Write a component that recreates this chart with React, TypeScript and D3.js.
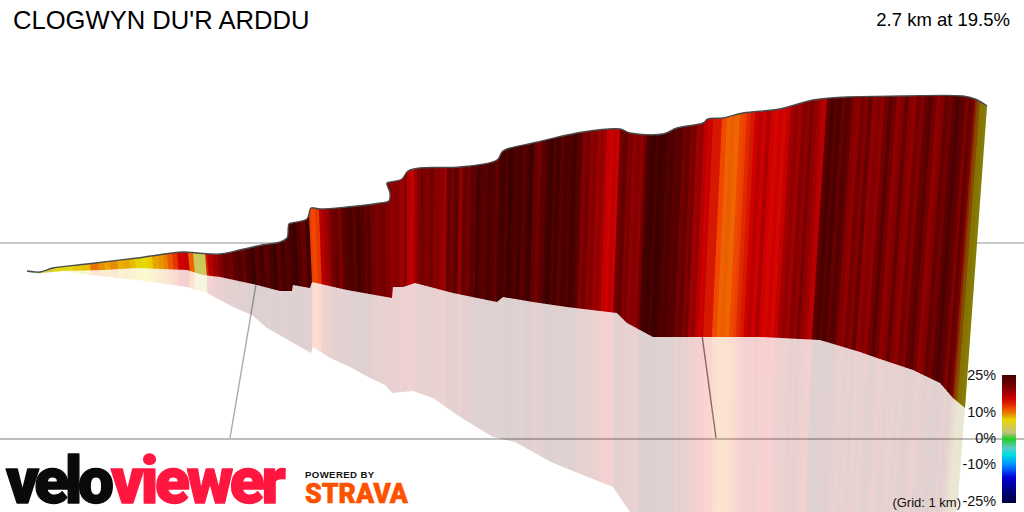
import React from "react";
import * as d3 from "d3";

const title = "CLOGWYN DU'R ARDDU";
const summary = "2.7 km at 19.5%";
const legendLabels = ["25%", "10%", "0%", "-10%", "-25%"];
const legendValues = [25, 10, 0, -10, -25];
const legendLabelY = [375, 412, 438, 464, 501];

// grade colour ramp
const rampGrades = [27, 25, 22, 20, 18, 16, 14, 12, 10, 7.5, 2.5, 0, -3.5, -6, -10, -15, -19, -25];
const rampColors = ["#3c0000", "#4a0000", "#640000", "#820000", "#a00000", "#d00000", "#d82000", "#f04800", "#e88000", "#e8d800", "#c0c080", "#20d020", "#60c8c8", "#00e0e0", "#0090ff", "#0000d8", "#000090", "#000040"];
const barGrades = [25, 22, 20, 18, 16, 14, 12, 10, 7.5, 2.5, 0, -3.5, -6, -10, -15, -19, -25];

// top edge of the ribbon
const topX = [27, 40, 53, 87, 137, 183, 197, 220, 240, 262, 280, 287, 289, 292, 307, 309, 311, 320, 347, 380, 389, 390, 387, 391, 402, 408, 420, 460, 497, 502, 507, 533, 583, 620, 630, 663, 677, 703, 708, 723, 743, 780, 813, 847, 900, 963, 975, 987];
const topY = [271, 272, 268, 264, 258, 252, 253, 254, 250, 245, 242, 238, 224, 223, 219, 214, 208, 209, 207, 203, 201, 193, 183, 182, 179, 171, 168, 167, 160, 152, 149, 143, 132, 129, 133, 134, 128, 123, 119, 118, 113, 109, 100, 97, 96, 96, 99, 106];
// bottom edge of the ribbon
const midX = [27, 40, 63, 103, 137, 187, 203, 220, 257, 280, 292, 293, 310, 312, 347, 392, 393, 403, 415, 453, 497, 503, 533, 567, 617, 627, 653, 700, 760, 820, 860, 880, 913, 940, 953, 965];
const midY = [272, 273, 271, 270, 268, 270, 275, 277, 285, 291, 291, 285, 288, 282, 290, 298, 287, 287, 283, 293, 302, 297, 302, 307, 313, 323, 337, 337, 337, 340, 352, 359, 370, 383, 398, 408];
// lower edge of the pale reflection
const lowX = [27, 40, 63, 90, 137, 187, 207, 233, 252, 267, 311, 313, 330, 350, 370, 385, 392, 413, 433, 460, 493, 515, 553, 613, 630, 650];
const lowY = [272, 274, 271, 275, 280, 287, 293, 307, 315, 328, 353, 347, 358, 367, 378, 385, 393, 391, 398, 417, 437, 442, 463, 487, 512, 530];
const reflectionRightX = [965, 958, 955];
const reflectionRightY = [408, 500, 520];

// colour bands along the top edge: [left edge of the band, gradient in %]
const bandsLow: [number, number][] = [[27, 1], [40, 5], [53, 7], [63, 6.8], [73, 8], [82, 8.2], [90, 10.5], [98, 9.6], [104, 9], [110, 9.8], [117, 8.6], [123, 8.9], [129, 8.3], [135, 7.6], [141, 7.2], [147, 7.8], [152, 9], [158, 9.4], [163, 10], [167, 11.5], [172, 13], [177, 16], [183, 16.5], [188, 11], [193, 4], [205, 14], [207, 17], [212, 18.5], [218, 20], [222, 22], [227, 21], [232, 23], [237, 24], [241, 22], [245, 25], [250, 27], [254, 24], [259, 26], [263, 23], [268, 25], [272, 27], [276, 23], [280, 26], [284, 24], [288, 25], [292, 27], [296, 24], [300, 22], [305, 26]];
const bandsMid: [number, number][] = [[309, 12.5], [311, 12], [315, 12.8], [319, 17], [323, 18], [327, 19], [330, 21], [334, 22], [338, 20], [341, 23], [345, 24], [349, 25], [352, 23], [356, 26], [360, 24], [364, 22], [367, 24], [370, 21], [375, 20.5], [380, 21], [385, 20], [390, 19], [394, 20], [397, 19], [400, 18], [404, 20], [407, 17], [411, 16.5], [414, 18], [417, 20], [421, 21], [425, 20], [430, 21], [434, 19.5], [438, 20], [440, 19], [444, 18], [447, 22], [451, 21], [455, 23], [459, 19], [463, 22], [467, 21], [471, 23], [475, 22], [477, 26], [480, 24], [484, 23], [488, 25], [492, 24], [496, 22], [499, 25]];
const bandsHigh: [number, number][] = [[502, 26], [506, 24], [509, 27], [513, 25], [516, 24], [519, 26], [523, 23], [527, 25], [530, 27], [534, 22], [538, 21], [542, 23], [547, 25], [550, 27], [554, 24], [557, 26], [561, 23], [565, 25], [569, 24], [573, 26], [577, 24], [580, 23], [583, 20], [587, 21], [591, 19], [594, 20], [598, 18], [601, 19], [604, 18], [607, 16.5], [611, 16], [614, 17], [617, 16.2], [620, 21], [624, 22], [628, 20], [631, 21], [633, 19], [637, 20], [641, 19], [644, 21], [647, 25], [650, 26], [653, 27], [656, 25], [659, 27], [663, 26], [667, 24], [671, 25], [675, 23], [679, 24], [683, 21], [687, 22], [691, 20], [694, 21], [697, 18], [701, 19], [704, 17], [708, 16], [711, 16.5], [713, 14.5]];
const bandsPeak: [number, number][] = [[722, 12], [727, 11], [731, 11.3], [735, 10.9], [740, 12], [744, 12.4], [747, 13.5], [751, 14.5], [755, 16], [759, 17], [763, 16], [767, 17.5], [771, 16], [775, 15.5], [779, 16], [783, 15.5], [787, 16.5], [791, 18], [795, 19], [799, 18], [803, 20], [807, 19], [811, 21], [814, 19], [818, 18], [822, 17], [827, 23], [831, 25], [835, 23], [838, 25], [842, 22], [846, 24], [850, 22], [853, 20], [857, 19], [861, 21], [865, 20], [869, 22], [873, 19], [877, 20], [881, 19], [885, 21], [889, 23], [893, 21], [897, 19], [901, 20], [905, 22], [909, 20], [913, 19], [917, 21], [921, 20], [925, 22], [929, 23], [933, 21], [937, 19], [941, 20], [945, 22], [949, 21], [953, 23], [957, 25], [960, 23], [963, 22], [966, 20], [969, 18], [972, 16], [975, 12.5], [977, 10], [980, 8], [984, 7]];
const bandEnd = 990;
// the far end of the ribbon turns towards olive
const shadeEdges = [969, 990];
const shadeOpacity = 0.42;

// perspective of the strips: top edge x → bottom edge x
const slantTop = [27, 309, 720, 988];
const slantMid = [27, 312, 710, 965];
const reflectAnchor = [27, 710, 965];
const reflectSlope = [0, 0, -0.09];

const allBands = [...bandsLow, ...bandsMid, ...bandsHigh, ...bandsPeak];

const ramp = d3.scaleLinear<string>().domain(rampGrades).range(rampColors).interpolate(d3.interpolateRgb).clamp(true);
const line = d3.line<[number, number]>();
const smooth = d3.line<[number, number]>().curve(d3.curveCatmullRom.alpha(0.5));
const zip = (xs: number[], ys: number[]) => xs.map((x, i) => [x, ys[i]] as [number, number]);

const slant = d3.scaleLinear().domain(slantTop).range(slantMid);
const reflectK = d3.scaleLinear().domain(reflectAnchor).range(reflectSlope);
const monotoneTop = zip(topX, topY).filter((p, i, a) => i === 0 || p[0] > a[i - 1][0]);
const topAt = d3.scaleLinear().domain(monotoneTop.map(p => p[0])).range(monotoneTop.map(p => p[1]));
const midAt = d3.scaleLinear().domain(midX).range(midY);

const edgeLine = (x: number) => {
  const m = slant(x);
  const yt = topAt(x);
  const yb = midAt(m);
  const k = yb - yt > 4 ? (m - x) / (yb - yt) : 0;
  return { m, yb, up: [x - k * 50, yt - 50] as [number, number], down: [m + k * 50, yb + 50] as [number, number] };
};

const reflectStrip = (a: { m: number; yb: number }, b: { m: number; yb: number }) =>
  line([
    [a.m, a.yb - 6],
    [b.m, b.yb - 6],
    [b.m + reflectK(b.m) * (530 - b.yb), 530],
    [a.m + reflectK(a.m) * (530 - a.yb), 530],
  ]) + "Z";

const bands = allBands.map(([x, g], i) => {
  const a = edgeLine(x);
  const next = i + 1 < allBands.length ? allBands[i + 1][0] : bandEnd;
  const b = edgeLine(next + 0.8); // slight overlap so that no seam shows
  return {
    color: ramp(g),
    ribbon: line([a.up, b.up, b.down, a.down]) + "Z",
    reflect: reflectStrip(a, b),
  };
});

const shadeA = edgeLine(shadeEdges[0]);
const shadeB = edgeLine(shadeEdges[1]);
const shadePath = line([shadeA.up, shadeB.up, shadeB.down, shadeA.down]) + "Z";
const shadeReflect = reflectStrip(shadeA, shadeB);

const topPath = smooth(zip(topX, topY)) ?? "";
const ribbonPath = topPath + "L" + (line(zip(midX, midY).reverse()) ?? "").slice(1) + "Z";
const reflectPath = line([...zip(midX, midY), ...zip(reflectionRightX, reflectionRightY), ...zip(lowX, lowY).reverse()]) + "Z";

const sans = "'Liberation Sans', Arial, sans-serif";
const legendY = d3.scaleLinear().domain([25, -25]).range([375, 503]);

export default function App() {
  return (
    <svg width={1024} height={512} style={{ position: "absolute", left: 0, top: 0, display: "block", background: "#fff" }} fontFamily={sans}>
      <defs>
        <clipPath id="rib"><path d={ribbonPath} /></clipPath>
        <clipPath id="refl"><path d={reflectPath} /></clipPath>
        <linearGradient id="bar" x1="0" x2="0" y1="0" y2="1">
          {barGrades.map((g, i) => (
            <stop key={i} offset={(25 - g) / 50} stopColor={ramp(g)} />
          ))}
        </linearGradient>
      </defs>

      <line x1={0} x2={1024} y1={243} y2={243} stroke="#b4b4b4" strokeWidth={1.5} />
      <line x1={0} x2={1024} y1={439} y2={439} stroke="#a8a8a8" strokeWidth={1.5} />
      <line x1={230} y1={438} x2={263} y2={243} stroke="#aaa" strokeWidth={1.4} />
      <line x1={702} y1={335} x2={716} y2={438} stroke="#777" strokeWidth={1.4} />

      <g clipPath="url(#refl)" opacity={0.18}>
        {bands.map((b, i) => <path key={i} d={b.reflect} fill={b.color} />)}
        <path d={shadeReflect} fill="#000" opacity={shadeOpacity} />
      </g>

      <g clipPath="url(#rib)">
        {bands.map((b, i) => <path key={i} d={b.ribbon} fill={b.color} />)}
        <path d={shadePath} fill="#000" opacity={shadeOpacity} />
      </g>
      <path d={topPath} fill="none" stroke="#4a4a4a" strokeWidth={1.4} />

      <text x={13} y={29} fontSize={25.6} fill="#000">{title}</text>
      <text x={1010} y={26} fontSize={18.5} fill="#000" textAnchor="end">{summary}</text>

      <rect x={1002} y={legendY(25)} width={14} height={legendY(-25) - legendY(25)} fill="url(#bar)" />
      {legendLabels.map((t, i) => (
        <text key={t} x={996} y={legendLabelY[i]} dy={4.8} fontSize={14.4} textAnchor="end" fill="#111" data-value={legendValues[i]}>{t}</text>
      ))}
      <text x={961} y={507} fontSize={13} textAnchor="end" fill="#111">(Grid: 1 km)</text>

      <g fontFamily="Roboto, 'Liberation Sans', sans-serif" fontWeight={900} strokeWidth={1.4} strokeLinejoin="round">
        <text x={6} y={503} fontSize={64} fill="#0a0a0a" stroke="#0a0a0a" letterSpacing={-4.4}>velo</text>
        <text x={111} y={503} fontSize={64} fill="#ff1740" stroke="#ff1740" letterSpacing={-3.3}>viewer</text>
      </g>
      <text x={305} y={478} fontSize={9.6} fontWeight={700} fill="#111" letterSpacing={0.4}>POWERED BY</text>
      <text x={305} y={503} fontFamily="Roboto, sans-serif" fontWeight={900} fontSize={27} fill="#fc5200" stroke="#fc5200" strokeWidth={0.6} textLength={103} lengthAdjust="spacingAndGlyphs">STRAVA</text>
    </svg>
  );
}
